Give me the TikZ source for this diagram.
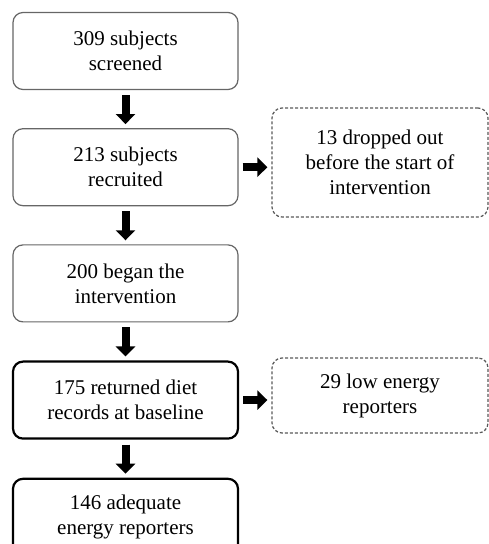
\documentclass[tikz,border=0pt]{standalone}
\usepackage{fontspec}
\setmainfont{Liberation Serif}
\usetikzlibrary{positioning, arrows.meta}
\tikzset{
blockarrow/.style={line width=8pt, -{Triangle[width=19pt,length=10pt]}}, % the thick black arrows between the boxes
}

\begin{document}
\begin{tikzpicture}[x=1pt, y=1pt, node distance={38pt},
    main/.style = {draw=black!60, line width=1.2pt, rounded corners=10pt, minimum width=225pt, minimum height=77pt, align=center, font=\fontsize{21}{25}\selectfont},
    bold/.style = {main, draw=black, line width=2.2pt},
    side/.style = {main, draw=black!65, dash pattern=on 3pt off 2pt, minimum width=216pt}]
    \useasboundingbox (0,0) rectangle (489,544);
    \clip (0,0) rectangle (489,544);
    \node[main] (1) at (125.5,493) {309 subjects\\screened};
    \node[main] (2) [below=of 1] {213 subjects\\recruited};
    \node[main] (3) [below=of 2] {200 began the\\intervention};
    \node[bold] (4) [below=of 3] {175 returned diet\\records at baseline};
    \node[bold] (5) [below=of 4] {146 adequate\\energy reporters};
    \node[side, minimum height=109pt] (6) at (380,381.5) {13 dropped out\\before the start of\\intervention};
    \node[side, minimum height=75pt] (7) at (380,148.5) {29 low energy\\reporters};
    \draw [blockarrow, shorten <=5pt, shorten >=4pt] (1) -- (2);
    \draw [blockarrow, shorten <=5pt, shorten >=4pt] (2) -- (3);
    \draw [blockarrow, shorten <=5pt, shorten >=4pt] (3) -- (4);
    \draw [blockarrow, shorten <=5pt, shorten >=4pt] (4) -- (5);
    \draw [blockarrow, shorten <=4pt, shorten >=4pt] (2.east) -- (2.east -| 6.west);
    \draw [blockarrow, shorten <=4pt, shorten >=4pt] (4.east) -- (4.east -| 7.west);
\end{tikzpicture}
\end{document}
